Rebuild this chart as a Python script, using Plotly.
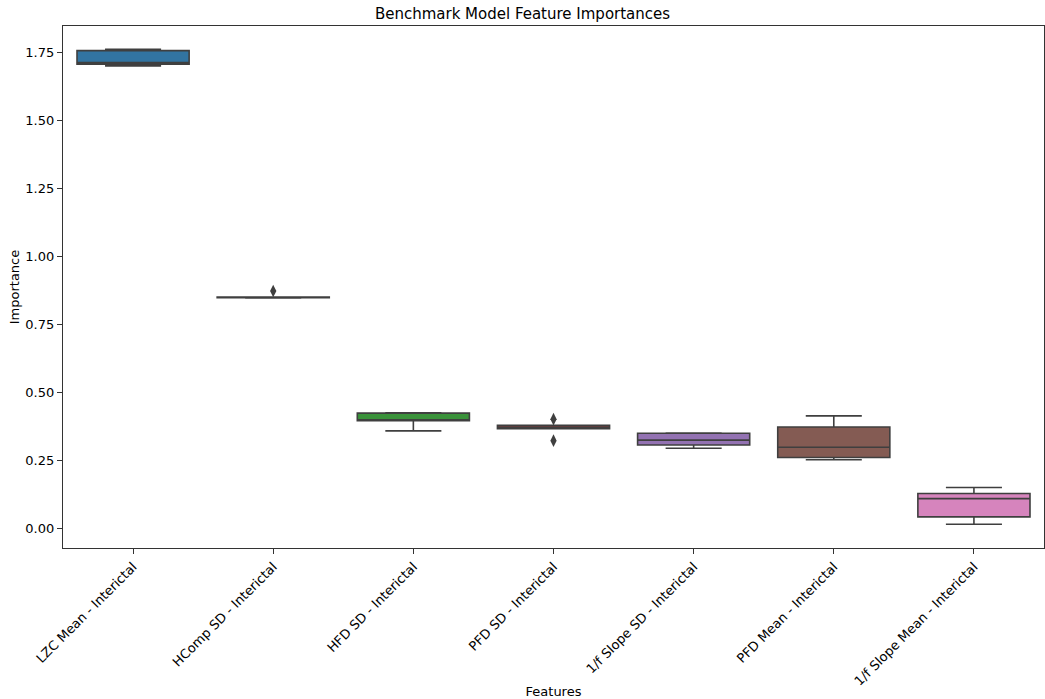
import plotly.graph_objects as go

# Per-fold importance scores for each feature
features = [
    "LZC Mean - Interictal",
    "HComp SD - Interictal",
    "HFD SD - Interictal",
    "PFD SD - Interictal",
    "1/f Slope SD - Interictal",
    "PFD Mean - Interictal",
    "1/f Slope Mean - Interictal",
]
lzc_mean = [1.699, 1.705, 1.711, 1.755, 1.760]
hcomp_sd = [0.846, 0.847, 0.848, 0.850, 0.872]
hfd_sd = [0.358, 0.395, 0.399, 0.423, 0.424]
pfd_sd = [0.322, 0.366, 0.371, 0.378, 0.401]
slope_sd = [0.294, 0.306, 0.324, 0.349, 0.350]
pfd_mean = [0.252, 0.260, 0.298, 0.372, 0.413]
slope_mean = [0.015, 0.042, 0.109, 0.128, 0.150]

scores = [lzc_mean, hcomp_sd, hfd_sd, pfd_sd, slope_sd, pfd_mean, slope_mean]
colors = ["#3274A1", "#E1812C", "#3A923A", "#C03D3E", "#9372B2", "#845B53", "#D684BD"]
edge = "#3f3f3f"

fig = go.Figure()
for name, vals, col in zip(features, scores, colors):
    fig.add_trace(go.Box(
        x=[name] * len(vals),
        y=vals,
        name=name,
        quartilemethod="inclusive",
        width=0.8,
        fillcolor=col,
        line=dict(color=edge, width=1.6),
        marker=dict(symbol="diamond-tall", color=edge, size=9),
        boxpoints="outliers",
        jitter=0,
        pointpos=0,
        whiskerwidth=0.5,
        showlegend=False,
    ))

font = "DejaVu Sans, sans-serif"
fig.update_layout(
    width=1045,
    height=699,
    paper_bgcolor="white",
    plot_bgcolor="white",
    margin=dict(l=63, r=1, t=26, b=151),
    font=dict(family=font, size=13, color="black"),
    title=dict(text="Benchmark Model Feature Importances", x=0.5, xanchor="center",
               y=1 - 14 / 699, yanchor="middle", font=dict(size=15, family=font)),
    xaxis=dict(
        title=dict(text="Features", font=dict(size=13), standoff=0),
        range=[-0.5, len(features) - 0.5],
        tickangle=-45,
        showline=True, mirror=True, linecolor="#333333", linewidth=1.2,
        ticks="outside", ticklen=5, tickcolor="#333333",
        showgrid=False, zeroline=False,
        tickfont=dict(size=13),
    ),
    yaxis=dict(
        title=dict(text="Importance", font=dict(size=13), standoff=2),
        range=[-0.0724, 1.8456],
        tickvals=[0, 0.25, 0.5, 0.75, 1.0, 1.25, 1.5, 1.75],
        ticktext=["0.00", "0.25", "0.50", "0.75", "1.00", "1.25", "1.50", "1.75"],
        showline=True, mirror=True, linecolor="#333333", linewidth=1.2,
        ticks="outside", ticklen=5, tickcolor="#333333",
        showgrid=False, zeroline=False,
        tickfont=dict(size=13),
    ),
)

fig.write_html("out.html")
